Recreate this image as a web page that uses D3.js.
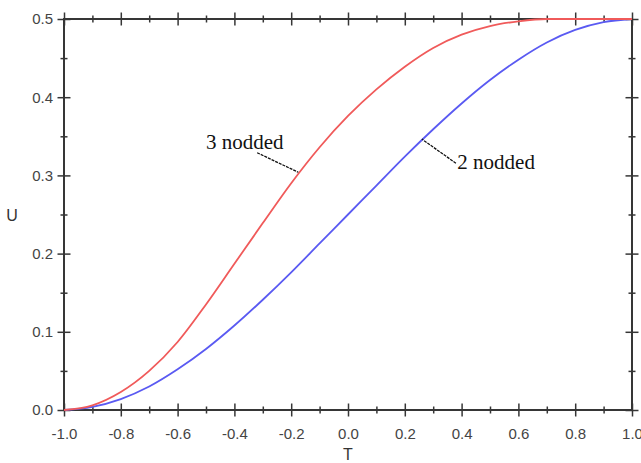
<!DOCTYPE html>
<html>
<head>
    <meta charset="utf-8">
    <title>U vs T</title>
    <script src="https://cdn.jsdelivr.net/npm/d3@7"></script>
    <style>
        body { margin: 0; background: #fff; }
        svg { display: block; }
    </style>
</head>
<body>
<script>
    // values
    const T = [-1.0, -0.9, -0.8, -0.7, -0.6, -0.5, -0.4, -0.3, -0.2, -0.1, 0.0,
               0.1, 0.2, 0.3, 0.4, 0.5, 0.6, 0.7, 0.8, 0.9, 1.0];
    const u3nodded = [0, 0.006, 0.023, 0.050, 0.087, 0.135, 0.187, 0.239, 0.290, 0.336, 0.376,
                      0.410, 0.439, 0.463, 0.480, 0.491, 0.497, 0.5, 0.5, 0.5, 0.5];
    const u2nodded = [0, 0.004, 0.014, 0.030, 0.052, 0.078, 0.108, 0.141, 0.176, 0.213, 0.25,
                      0.287, 0.324, 0.359, 0.392, 0.422, 0.448, 0.470, 0.486, 0.496, 0.5];

    const xMajor = [-1.0, -0.8, -0.6, -0.4, -0.2, 0.0, 0.2, 0.4, 0.6, 0.8, 1.0];
    const xMinor = [-0.9, -0.7, -0.5, -0.3, -0.1, 0.1, 0.3, 0.5, 0.7, 0.9];
    const yMajor = [0.0, 0.1, 0.2, 0.3, 0.4, 0.5];
    const yMinor = [0.05, 0.15, 0.25, 0.35, 0.45];

    // annotation anchors, in data units
    const notes = [
        { text: '3 nodded', tx: -0.5, ty: 0.334, from: [-0.32, 0.329], to: [-0.175, 0.304] },
        { text: '2 nodded', tx: 0.385, ty: 0.308, from: [0.38, 0.3155], to: [0.26, 0.3465] }
    ];

    const width = 641;
    const height = 463;

    const svg = d3.select('body')
        .append('svg')
        .attr('width', width)
        .attr('height', height);

    const x = d3.scaleLinear().domain([-1, 1]).range([64, 632]);
    const y = d3.scaleLinear().domain([0, 0.5]).range([410, 19]);

    const fmt = d => d.toFixed(1);
    const axisColor = '#363636';

    // frame
    svg.append('rect')
        .attr('x', x(-1)).attr('y', y(0.5))
        .attr('width', x(1) - x(-1)).attr('height', y(0) - y(0.5))
        .attr('fill', 'none')
        .attr('stroke', axisColor)
        .attr('stroke-width', 2);

    // ticks cross the frame lines, so shift each tick line to straddle it
    function crossing(g, half, vertical) {
        g.select('.domain').remove();
        g.selectAll('.tick line')
            .attr('stroke', axisColor)
            .attr('stroke-width', 1.5)
            .attr(vertical ? 'y1' : 'x1', -half)
            .attr(vertical ? 'y2' : 'x2', half);
    }

    // bottom
    svg.append('g')
        .attr('transform', `translate(0,${y(0)})`)
        .call(d3.axisBottom(x).tickValues(xMajor).tickFormat(fmt).tickSize(6).tickPadding(12))
        .call(g => crossing(g, 6.5, true));
    svg.append('g')
        .attr('transform', `translate(0,${y(0)})`)
        .call(d3.axisBottom(x).tickValues(xMinor).tickFormat('').tickSize(4))
        .call(g => crossing(g, 3.5, true));

    // top
    svg.append('g')
        .attr('transform', `translate(0,${y(0.5)})`)
        .call(d3.axisTop(x).tickValues(xMajor).tickFormat('').tickSize(6))
        .call(g => crossing(g, 6.5, true));
    svg.append('g')
        .attr('transform', `translate(0,${y(0.5)})`)
        .call(d3.axisTop(x).tickValues(xMinor).tickFormat('').tickSize(4))
        .call(g => crossing(g, 3.5, true));

    // left
    svg.append('g')
        .attr('transform', `translate(${x(-1)},0)`)
        .call(d3.axisLeft(y).tickValues(yMajor).tickFormat(fmt).tickSize(6).tickPadding(5))
        .call(g => crossing(g, 6.5, false));
    svg.append('g')
        .attr('transform', `translate(${x(-1)},0)`)
        .call(d3.axisLeft(y).tickValues(yMinor).tickFormat('').tickSize(4))
        .call(g => crossing(g, 3.5, false));

    // right
    svg.append('g')
        .attr('transform', `translate(${x(1)},0)`)
        .call(d3.axisRight(y).tickValues(yMajor).tickFormat('').tickSize(6))
        .call(g => crossing(g, 6.5, false));
    svg.append('g')
        .attr('transform', `translate(${x(1)},0)`)
        .call(d3.axisRight(y).tickValues(yMinor).tickFormat('').tickSize(4))
        .call(g => crossing(g, 3.5, false));

    svg.selectAll('.tick text')
        .attr('font-family', '"Liberation Sans", Arial, sans-serif')
        .attr('font-size', 15)
        .attr('fill', '#444');

    // axis titles
    svg.append('text')
        .attr('x', x(0)).attr('y', 460)
        .attr('text-anchor', 'middle')
        .attr('font-family', '"Liberation Sans", Arial, sans-serif')
        .attr('font-size', 16)
        .attr('fill', '#333')
        .text('T');
    svg.append('text')
        .attr('x', 12).attr('y', y(0.25) + 6)
        .attr('text-anchor', 'middle')
        .attr('font-family', '"Liberation Sans", Arial, sans-serif')
        .attr('font-size', 16)
        .attr('fill', '#333')
        .text('U');

    // curves
    const line = d3.line()
        .x((d, i) => x(T[i]))
        .y(d => y(d))
        .curve(d3.curveMonotoneX);

    svg.append('path')
        .attr('d', line(u2nodded))
        .attr('fill', 'none')
        .attr('stroke', '#5a5af2')
        .attr('stroke-width', 1.8);

    svg.append('path')
        .attr('d', line(u3nodded))
        .attr('fill', 'none')
        .attr('stroke', '#f05a5a')
        .attr('stroke-width', 1.8);

    // labels with leader lines
    notes.forEach(n => {
        svg.append('line')
            .attr('x1', x(n.from[0])).attr('y1', y(n.from[1]))
            .attr('x2', x(n.to[0])).attr('y2', y(n.to[1]))
            .attr('stroke', '#111')
            .attr('stroke-width', 1.3)
            .attr('stroke-dasharray', '3,1');
        svg.append('text')
            .attr('x', x(n.tx)).attr('y', y(n.ty))
            .attr('font-family', '"Liberation Serif", "Times New Roman", serif')
            .attr('font-size', 21)
            .attr('fill', '#111')
            .text(n.text);
    });
</script>
</body>
</html>
